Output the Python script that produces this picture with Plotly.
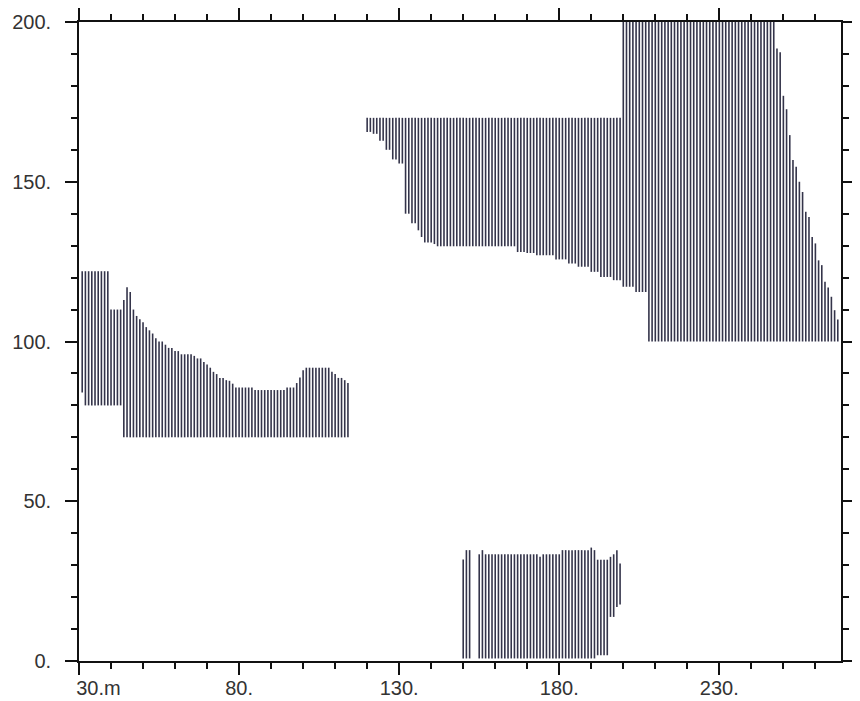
import plotly.graph_objects as go

# ---- Region A (left block) : x positions, bottom and top of each hatch line
xA = list(range(31, 115))
lowA = [84] + [80] * 12 + [70] * 71
highA = ([122] * 9 + [110] * 4 +
         [113, 117, 115.5, 110, 108, 107, 106, 104.5, 103.5, 102.5, 101, 100, 100, 99,
          98, 98, 97, 97, 96, 96, 96, 96, 95.5, 94.7, 94.7, 93.6, 92.8, 91.8, 90.5,
          89.8, 88.6, 88.6, 87.9, 87.7, 86.8] +
         [85.6] * 6 + [84.8] * 10 + [85.6] * 3 + [87, 88.7, 91] + [91.8] * 8 +
         [90.5, 89.8, 88.6, 88.6, 87.9, 87])

# ---- Region B (upper right block)
xB = list(range(120, 268))
lowB = ([165.6, 165.6, 165, 165, 162.8, 162.8, 160, 160, 157, 157, 155.7, 155.7,
         140, 140, 137, 137, 134.8, 132.7, 131, 131, 131, 130.5] +
        [129.8] * 25 + [128] * 3 + [127.7] * 3 + [127] * 6 + [125.7] * 4 +
        [124.4] * 3 + [123.4] * 4 + [121.8] * 3 + [120.2] * 4 + [119.2] * 3 +
        [117.1] * 4 + [115.5] * 4 + [100] * 60)
highB = ([170] * 80 + [200] * 48 +
         [191.7, 190.5, 176.9, 172.7, 164.6, 156.8, 154.7, 150, 146.8, 140.6, 139,
          132.7, 130.7, 125.4, 123.9, 118.7, 116.9, 114, 109.8, 106.9])

# ---- Region C (bottom block)
xC = [150, 151, 152] + list(range(155, 200))
lowC = [0.8] * 3 + [0.8] * 37 + [1.8] * 4 + [13.8, 13.8, 16.9, 17.7]
highC = ([31.8, 34.7, 34.7, 33.4, 34.7] + [33.4] * 17 + [32.6] + [33.4] * 6 +
         [34.7] * 9 + [35.5, 34.7] + [31.7] * 4 + [32.6, 33.4, 34.7, 30.5])

# ---- Axis ticks
x_major = [30, 80, 130, 180, 230]
x_labels = ["\u00a0" * 7 + "30.m", "80.", "130.", "180.", "230."]
x_minor = [40, 50, 60, 70, 90, 100, 110, 120, 140, 150, 160, 170, 190, 200, 210,
           220, 240, 250, 260]
y_major = [0, 50, 100, 150, 200]
y_labels = ["0.", "50.", "100.", "150.", "200."]
y_minor = [10, 20, 30, 40, 60, 70, 80, 90, 110, 120, 130, 140, 160, 170, 180, 190]


def segments(xs, lows, highs):
    px, py = [], []
    for x, lo, hi in zip(xs, lows, highs):
        px += [x, x, None]
        py += [lo, hi, None]
    return px, py


fig = go.Figure()
for xs, lo, hi in [(xA, lowA, highA), (xB, lowB, highB), (xC, lowC, highC)]:
    sx, sy = segments(xs, lo, hi)
    fig.add_trace(go.Scatter(x=sx, y=sy, mode="lines",
                             line=dict(color="#34344a", width=1.6),
                             hoverinfo="skip", showlegend=False))

axis_common = dict(showgrid=False, zeroline=False, showline=True, linecolor="#111",
                   linewidth=1.6, mirror="ticks", ticks="outside", ticklen=12,
                   tickwidth=1.6, tickcolor="#111", automargin=False,
                   tickfont=dict(family="Liberation Sans, Arial", size=20, color="#333"))

fig.update_xaxes(range=[30, 268], tickmode="array", tickvals=x_major, ticktext=x_labels,
                 ticklabelstandoff=-4,
                 minor=dict(tickmode="array", tickvals=x_minor, ticks="outside",
                            ticklen=6, tickwidth=1.6, tickcolor="#111"),
                 **axis_common)
fig.update_yaxes(range=[0, 200], tickmode="array", tickvals=y_major, ticktext=y_labels,
                 ticklabelstandoff=10,
                 minor=dict(tickmode="array", tickvals=y_minor, ticks="outside",
                            ticklen=6, tickwidth=1.6, tickcolor="#111"),
                 **axis_common)

# page body adds an 8 px offset, so the figure is sized to fit the 860x701 window
fig.update_layout(width=852, height=693, margin=dict(l=71, r=19, t=14, b=40),
                  plot_bgcolor="white", paper_bgcolor="white")

fig.write_html("out.html")
